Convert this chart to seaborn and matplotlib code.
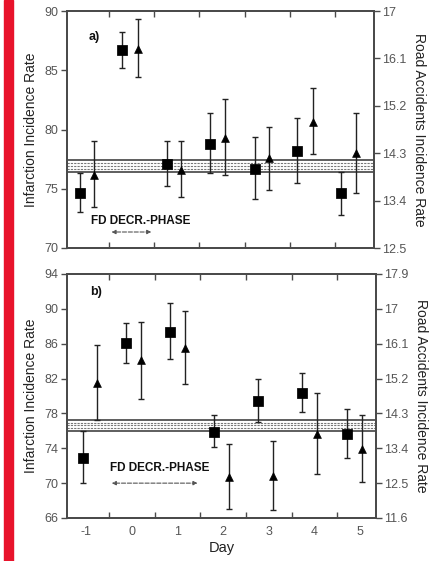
import matplotlib
matplotlib.use("Agg")
import matplotlib.pyplot as plt
import seaborn as sns
import numpy as np
import pandas as pd
from matplotlib.patches import Rectangle

sns.set_style("white")
plt.rcParams['font.family'] = ['Liberation Sans', 'DejaVu Sans']

# ---------------- data ----------------
day_ticks = [-1, 0, 1, 2, 3, 4, 5]
half_ticks = [-0.5, 0.5, 1.5, 2.5, 3.5, 4.5]

# panel a) infarction (squares), left axis
a_sq_x = [-1.14, -0.2, 0.79, 1.73, 2.72, 3.66, 4.63]
a_sq_y = [74.6, 86.7, 77.1, 78.8, 76.7, 78.2, 74.6]
a_sq_lo = [73.0, 85.2, 75.2, 76.3, 74.1, 75.5, 72.8]
a_sq_hi = [76.3, 88.2, 79.0, 81.4, 79.4, 81.0, 76.4]
# panel a) road accidents (triangles), plotted on left-axis scale
a_tr_x = [-0.83, 0.14, 1.1, 2.07, 3.03, 4.0, 4.96]
a_tr_y = [76.2, 86.8, 76.6, 79.3, 77.6, 80.6, 78.0]
a_tr_lo = [73.5, 84.4, 74.3, 76.2, 74.9, 77.9, 74.6]
a_tr_hi = [79.0, 89.3, 79.0, 82.6, 80.2, 83.5, 81.4]
a_band = [76.4, 77.4]

# panel b)
b_sq_x = [-1.07, -0.13, 0.83, 1.8, 2.76, 3.73, 4.71]
b_sq_y = [72.9, 86.1, 87.4, 75.9, 79.4, 80.4, 75.6]
b_sq_lo = [70.0, 83.8, 84.2, 74.1, 77.0, 78.2, 72.9]
b_sq_hi = [76.0, 88.4, 90.7, 77.8, 81.9, 82.6, 78.5]
b_tr_x = [-0.77, 0.2, 1.16, 2.13, 3.09, 4.06, 5.04]
b_tr_y = [81.5, 84.1, 85.5, 70.7, 70.8, 75.6, 73.9]
b_tr_lo = [77.3, 79.7, 81.4, 67.0, 66.9, 71.0, 70.1]
b_tr_hi = [85.9, 88.5, 89.8, 74.5, 74.8, 80.4, 77.8]
b_band = [76.0, 77.25]

a_left_ticks = [70, 75, 80, 85, 90]
a_right_ticks = [12.5, 13.4, 14.3, 15.2, 16.1, 17]
b_left_ticks = [66, 70, 74, 78, 82, 86, 90, 94]
b_right_ticks = [11.6, 12.5, 13.4, 14.3, 15.2, 16.1, 17, 17.9]

phase_a = [-0.5, 0.5]
phase_b = [-0.5, 1.5]

fig = plt.figure(figsize=(4.30, 5.61), dpi=100)
fig.patch.set_facecolor('white')

# red bar on the left
fig.add_artist(Rectangle((4/430, 0), 9/430, 1, transform=fig.transFigure,
                         color='#e8132b', zorder=0))

spine_c = '#4a4a4a'
tick_c = '#555555'

def panel(rect, sqx, sqy, sqlo, sqhi, trx, try_, trlo, trhi, band,
          ylim, lticks, rlim, rticks, label, label_xy, phase, phase_y, text_xy, show_x):
    ax = fig.add_axes(rect)
    ax.set_xlim(-1.42, 5.35)
    ax.set_ylim(*ylim)
    # band
    lo, hi = band
    ax.axhline(hi, color='#333333', lw=1.1, zorder=1)
    ax.axhline(lo, color='#333333', lw=1.1, zorder=1)
    for v in np.linspace(lo, hi, 5)[1:-1]:
        ax.axhline(v, color='#777777', lw=0.8, ls=(0, (2, 1)), zorder=1)
    # error bars
    sqy_a = np.array(sqy); try_a = np.array(try_)
    ax.errorbar(sqx, sqy, yerr=[sqy_a - np.array(sqlo), np.array(sqhi) - sqy_a],
                fmt='none', ecolor='#222222', elinewidth=1.0, capsize=2.5, capthick=1.0, zorder=2)
    ax.errorbar(trx, try_, yerr=[try_a - np.array(trlo), np.array(trhi) - try_a],
                fmt='none', ecolor='#222222', elinewidth=1.0, capsize=2.5, capthick=1.0, zorder=2)
    dsq = pd.DataFrame({'x': sqx, 'y': sqy})
    dtr = pd.DataFrame({'x': trx, 'y': try_})
    sns.scatterplot(data=dsq, x='x', y='y', marker='s', s=45, color='black',
                    edgecolor='black', ax=ax, zorder=3)
    sns.scatterplot(data=dtr, x='x', y='y', marker='^', s=32, color='black',
                    edgecolor='black', ax=ax, zorder=3)
    ax.set_xlabel('')
    ax.set_ylabel('Infarction Incidence Rate', fontsize=10, color='#222222', labelpad=5)
    ax.set_yticks(lticks)
    ax.set_yticklabels([str(t) for t in lticks], fontsize=9, color=tick_c)
    ax.set_xticks(day_ticks)
    if show_x:
        ax.set_xticklabels([str(d) for d in day_ticks], fontsize=9, color=tick_c)
    else:
        ax.set_xticklabels([])
    ax.set_xticks(half_ticks, minor=True)
    ax.tick_params(axis='x', which='major', length=0, pad=6)
    ax.tick_params(axis='x', which='minor', direction='in', length=4, top=True,
                   bottom=True, color=spine_c, width=1)
    ax.tick_params(axis='y', which='major', direction='out', length=4, color=spine_c,
                   width=1, pad=2)
    for s in ax.spines.values():
        s.set_color(spine_c)
        s.set_linewidth(1.3)
    ax.text(label_xy[0], label_xy[1], label, fontsize=9, fontweight='bold',
            ha='center', va='center', color='#111111')
    ax.annotate('', xy=(phase[0], phase_y), xytext=(phase[1], phase_y),
                arrowprops=dict(arrowstyle='<|-|>', color='#555555', lw=0.8, ls='--',
                                mutation_scale=6))
    ax.text(text_xy[0], text_xy[1], 'FD DECR.-PHASE', fontsize=8.5, fontweight='bold',
            ha='center', va='center', color='#111111')
    ax2 = ax.twinx()
    ax2.set_ylim(*rlim)
    ax2.set_yticks(rticks)
    ax2.set_yticklabels([str(t) for t in rticks], fontsize=9, color=tick_c)
    ax2.tick_params(axis='y', direction='out', length=4, color=spine_c, width=1, pad=2)
    ax2.set_ylabel('Road Accidents Incidence Rate', fontsize=10, color='#222222',
                   rotation=270, labelpad=14)
    for s in ax2.spines.values():
        s.set_color(spine_c)
        s.set_linewidth(1.3)
    return ax

panel([67/430, 1 - 248/561, 307/430, 237/561],
      a_sq_x, a_sq_y, a_sq_lo, a_sq_hi, a_tr_x, a_tr_y, a_tr_lo, a_tr_hi, a_band,
      (70, 90), a_left_ticks, (12.5, 17), a_right_ticks, 'a)', (-0.83, 87.8),
      phase_a, 71.35, (0.2, 72.3), False)

axb = panel([67/430, 1 - 518/561, 309/430, 244/561],
      b_sq_x, b_sq_y, b_sq_lo, b_sq_hi, b_tr_x, b_tr_y, b_tr_lo, b_tr_hi, b_band,
      (66, 94), b_left_ticks, (11.6, 17.9), b_right_ticks, 'b)', (-0.79, 91.9),
      phase_b, 70.0, (0.62, 71.7), True)
axb.set_xlabel('Day', fontsize=10.5, color='#222222', labelpad=2)

fig.savefig('out.png', dpi=100, facecolor='white')
